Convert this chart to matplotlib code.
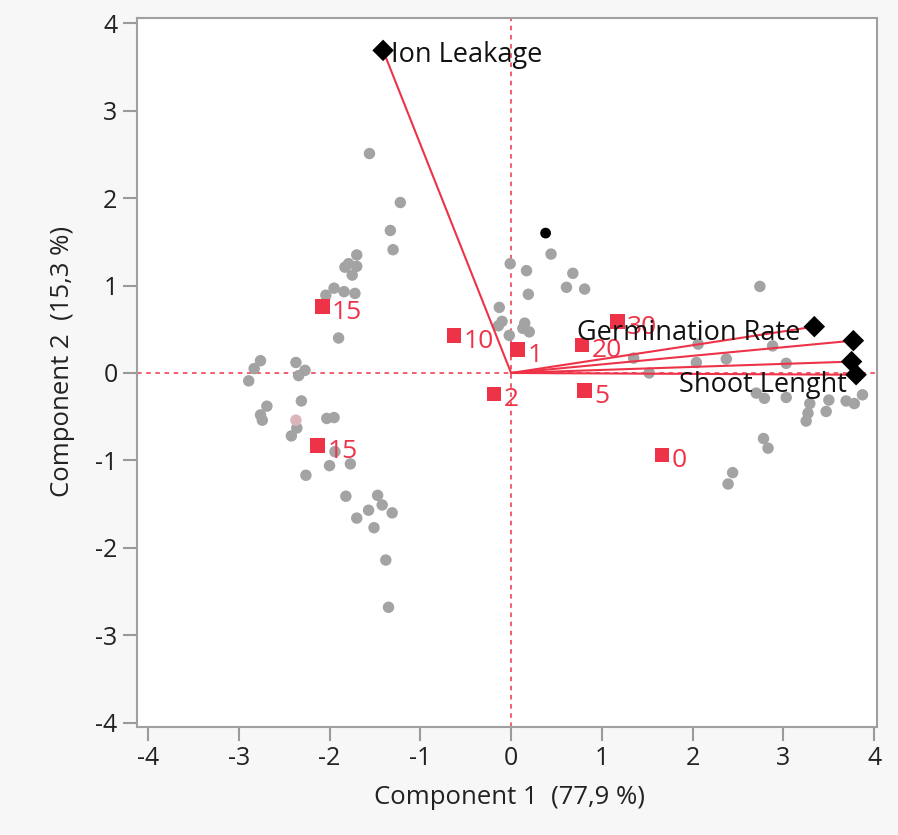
import matplotlib
matplotlib.use("Agg")
import matplotlib.pyplot as plt

plt.rcParams['font.family'] = ['Open Sans', 'DejaVu Sans']
plt.rcParams['axes.unicode_minus'] = False

# gray observation scores
gray_x = [-1.56, -1.22, -1.33, -1.30, -1.70, -1.79, -1.70, -1.83, -1.75, -1.95, -1.84, -1.72, -2.04, -1.90,
          -2.76, -2.83, -2.89, -2.37, -2.27, -2.34, -2.31, -2.69, -2.76, -2.74, -2.36, -2.42, -2.03, -1.95,
          -1.94, -2.00, -1.77, -2.26, -1.82, -1.47, -1.42, -1.31, -1.57, -1.70, -1.51, -1.38, -1.35,
          0.44, -0.01, 0.17, 0.68, 0.61, 0.81, 0.19, -0.13, -0.10, -0.14, 0.15, 0.20, 0.13, -0.02, 1.35, 1.52,
          2.06, 2.04, 2.37, 2.74, 2.88, 3.03, 2.70, 2.79, 3.03, 3.29, 3.27, 3.25, 3.50, 3.47, 3.69, 3.78, 3.87,
          2.78, 2.83, 2.44, 2.39]
gray_y = [2.51, 1.95, 1.63, 1.41, 1.35, 1.25, 1.22, 1.21, 1.12, 0.97, 0.93, 0.91, 0.89, 0.40,
          0.14, 0.05, -0.09, 0.12, 0.03, -0.03, -0.32, -0.38, -0.48, -0.54, -0.63, -0.72, -0.52, -0.51,
          -0.90, -1.06, -1.04, -1.17, -1.41, -1.40, -1.51, -1.60, -1.57, -1.66, -1.77, -2.14, -2.68,
          1.36, 1.25, 1.17, 1.14, 0.98, 0.96, 0.90, 0.75, 0.59, 0.54, 0.57, 0.47, 0.51, 0.43, 0.17, 0.00,
          0.33, 0.12, 0.16, 0.99, 0.31, 0.11, -0.23, -0.29, -0.28, -0.35, -0.46, -0.55, -0.31, -0.44, -0.32, -0.35, -0.25,
          -0.75, -0.86, -1.14, -1.27]

# highlighted observations
black_pt = (0.38, 1.60)
pink_pt = (-2.37, -0.54)

# group means (red squares)
grp_labels = ['15', '15', '10', '1', '2', '20', '30', '5', '0']
grp_x = [-2.08, -2.13, -0.63, 0.07, -0.19, 0.78, 1.17, 0.81, 1.66]
grp_y = [0.76, -0.83, 0.43, 0.27, -0.24, 0.32, 0.59, -0.20, -0.94]

# variable loadings (vectors)
var_labels = ['Ion Leakage', 'Germination Rate', None, None, 'Shoot Lenght']
var_x = [-1.41, 3.34, 3.77, 3.75, 3.80]
var_y = [3.69, 0.53, 0.37, 0.13, -0.02]

xticks = [-4, -3, -2, -1, 0, 1, 2, 3, 4]
yticks = [-4, -3, -2, -1, 0, 1, 2, 3, 4]

RED = '#ee3348'
GRAY = '#a3a3a3'

fig = plt.figure(figsize=(8.98, 8.35), dpi=100, facecolor='#f7f7f7')
ax = fig.add_axes([0.1526, 0.1293, 0.8240, 0.8491])
ax.set_facecolor('white')
ax.set_xlim(-4.12, 4.03)
ax.set_ylim(-4.05, 4.06)

ax.axhline(0, color=RED, lw=1.1, ls=(0, (3, 3)), zorder=1)
ax.axvline(0, color=RED, lw=1.1, ls=(0, (3, 3)), zorder=1)

ax.scatter(gray_x, gray_y, s=68, color=GRAY, edgecolors='none', zorder=2)
ax.scatter([black_pt[0]], [black_pt[1]], s=60, color='black', edgecolors='none', zorder=2)
ax.scatter([pink_pt[0]], [pink_pt[1]], s=68, color='#dcb4bc', edgecolors='none', zorder=2)

for vx, vy in zip(var_x, var_y):
    ax.plot([0, vx], [0, vy], color=RED, lw=1.5, zorder=3)
ax.scatter(var_x, var_y, marker='D', s=120, color='black', edgecolors='none', zorder=5)

ax.scatter(grp_x, grp_y, marker='s', s=110, color=RED, edgecolors='none', zorder=4)
for lab, gx, gy in zip(grp_labels, grp_x, grp_y):
    ax.annotate(lab, (gx, gy), xytext=(7, -2), textcoords='offset points',
                ha='left', va='center_baseline', color=RED, fontsize=19, zorder=6)

offsets = {'Ion Leakage': ((6, -1), 'left'),
           'Germination Rate': ((-10, -2), 'right'),
           'Shoot Lenght': ((-7, -5), 'right')}
for lab, vx, vy in zip(var_labels, var_x, var_y):
    if lab is None:
        continue
    off, ha = offsets[lab]
    ax.annotate(lab, (vx, vy), xytext=off, textcoords='offset points',
                ha=ha, va='center_baseline', color='#111111', fontsize=19.5, zorder=6)

ax.set_xticks(xticks)
ax.set_yticks(yticks)
ax.set_xticklabels([str(t) for t in xticks])
ax.set_yticklabels([str(t) for t in yticks])
ax.tick_params(axis='both', direction='out', length=10, width=1.5, color='#9a9a9a',
               labelsize=18, labelcolor='#222222', pad=4)
xt = ax.xaxis.get_major_ticks()[xticks.index(0)]
xt.tick1line.set_color(RED)
yt = ax.yaxis.get_major_ticks()[yticks.index(0)]
yt.tick1line.set_color(RED)

for sp in ax.spines.values():
    sp.set_color('#a0a0a0')
    sp.set_linewidth(1.5)

ax.set_xlabel('Component 1  (77,9 %)', fontsize=18.5, color='#222222')
ax.set_ylabel('Component 2  (15,3 %)', fontsize=18.5, color='#222222')
ax.xaxis.set_label_coords(0.504, -0.100)
ax.yaxis.set_label_coords(-0.101, 0.515)
ax.xaxis.label.set_va('center')
ax.yaxis.label.set_va('center')

fig.savefig('out.png', dpi=100, facecolor=fig.get_facecolor())
